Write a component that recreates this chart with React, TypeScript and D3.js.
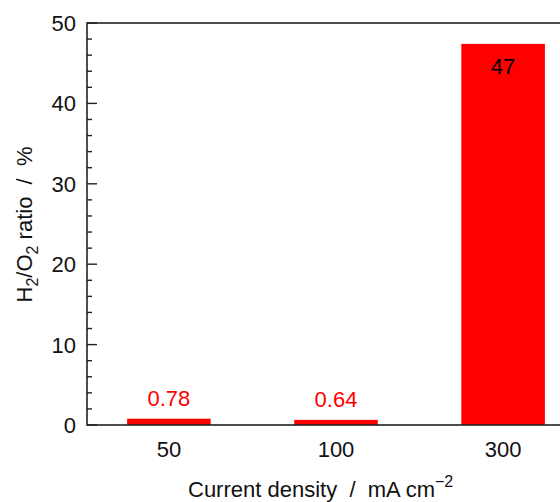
import React, { useEffect, useRef } from "react";
import * as d3 from "d3";

// Current densities (mA cm^-2) and measured H2/O2 ratios (%)
const categories: string[] = ["50", "100", "300"];
const ratios: number[] = [0.78, 0.64, 47.4];
const labelColors: string[] = ["#ff0000", "#ff0000", "#000000"];
const yTicks: number[] = [0, 10, 20, 30, 40, 50];
const yMinorTicks: number[] = d3.range(0, 51, 2);

const W = 560;
const H = 502;
const margin = { left: 87, top: 23, right: 585, bottom: 425 };
const FONT = "'Liberation Sans', Arial, sans-serif";
const FS = 22;

export default function App() {
  const ref = useRef<SVGSVGElement | null>(null);

  useEffect(() => {
    const svg = d3.select(ref.current);
    svg.selectAll("*").remove();

    const x = d3
      .scaleBand<string>()
      .domain(categories)
      .range([margin.left, margin.right])
      .paddingInner(0.5)
      .paddingOuter(0.24);
    const y = d3.scaleLinear().domain([0, 50]).range([margin.bottom, margin.top]);

    // Bars
    svg
      .append("g")
      .selectAll("rect")
      .data(ratios)
      .join("rect")
      .attr("x", (_, i) => x(categories[i])!)
      .attr("width", x.bandwidth())
      .attr("y", (d) => y(d))
      .attr("height", (d) => y(0) - y(d))
      .attr("fill", "#ff0000");

    // Value labels: above small bars, inside the tall one
    const fmt = (d: number) => (d >= 10 ? d3.format(".0f")(d) : d3.format(".2f")(d));
    svg
      .append("g")
      .selectAll("text")
      .data(ratios)
      .join("text")
      .attr("x", (_, i) => x(categories[i])! + x.bandwidth() / 2)
      .attr("y", (d) => (d >= 10 ? y(d) + 30 : y(d) - 13))
      .attr("text-anchor", "middle")
      .attr("font-family", FONT)
      .attr("font-size", FS)
      .attr("fill", (_, i) => labelColors[i])
      .text((d) => fmt(d));

    // Frame
    svg
      .append("rect")
      .attr("x", margin.left)
      .attr("y", margin.top)
      .attr("width", margin.right - margin.left)
      .attr("height", margin.bottom - margin.top)
      .attr("fill", "none")
      .attr("stroke", "#222")
      .attr("stroke-width", 1.6);

    // Y ticks (inward)
    const yAxis = svg.append("g");
    yAxis
      .selectAll("line.minor")
      .data(yMinorTicks)
      .join("line")
      .attr("class", "minor")
      .attr("x1", margin.left)
      .attr("x2", (d) => margin.left + (d % 10 === 0 ? 10 : 5))
      .attr("y1", (d) => y(d))
      .attr("y2", (d) => y(d))
      .attr("stroke", "#222")
      .attr("stroke-width", 1.4);
    yAxis
      .selectAll("text")
      .data(yTicks)
      .join("text")
      .attr("x", margin.left - 11)
      .attr("y", (d) => y(d))
      .attr("dy", "0.36em")
      .attr("text-anchor", "end")
      .attr("font-family", FONT)
      .attr("font-size", FS)
      .attr("fill", "#111")
      .text((d) => String(d));

    // X tick labels
    svg
      .append("g")
      .selectAll("text")
      .data(categories)
      .join("text")
      .attr("x", (d) => x(d)! + x.bandwidth() / 2)
      .attr("y", 457)
      .attr("text-anchor", "middle")
      .attr("font-family", FONT)
      .attr("font-size", FS)
      .attr("fill", "#111")
      .text((d) => d);

    // X axis title
    const xt = svg
      .append("text")
      .attr("x", 188)
      .attr("y", 497)
      .attr("font-family", FONT)
      .attr("font-size", FS)
      .attr("fill", "#111")
      .style("white-space", "pre");
    xt.append("tspan").text("Current density  /  mA cm");
    xt.append("tspan").attr("dy", -10).attr("font-size", 16).text("\u22122");

    // Y axis title
    const yt = svg
      .append("text")
      .attr("transform", `translate(31.5,224.5) rotate(-90)`)
      .attr("text-anchor", "middle")
      .attr("font-family", FONT)
      .attr("font-size", FS)
      .attr("fill", "#111")
      .style("white-space", "pre");
    yt.append("tspan").text("H");
    yt.append("tspan").attr("dy", 6).attr("font-size", 16).text("2");
    yt.append("tspan").attr("dy", -6).text("/O");
    yt.append("tspan").attr("dy", 6).attr("font-size", 16).text("2");
    yt.append("tspan").attr("dy", -6).text(" ratio  /  %");
  }, []);

  return (
    <svg
      ref={ref}
      width={W}
      height={H}
      style={{ position: "absolute", left: 0, top: 0, background: "#fff" }}
    />
  );
}
